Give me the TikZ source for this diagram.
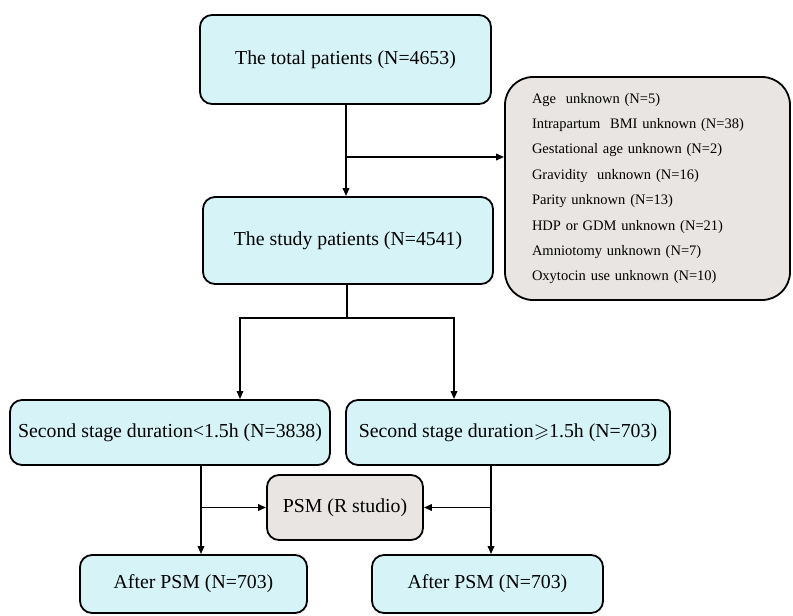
\documentclass[tikz,border=0pt]{standalone}
\usepackage{amssymb}
\usepackage{fontspec}
\setmainfont{Liberation Serif}
\usetikzlibrary{arrows.meta,positioning}

\definecolor{boxblue}{HTML}{D6F4F8}
\definecolor{boxgrey}{HTML}{E8E5E2}

\begin{document}
\begin{tikzpicture}[
        x=1pt, y=-1pt,
        box/.style={draw, line width=1.8pt, rounded corners=12pt, fill=boxblue, align=center,
            font=\fontsize{19.8}{24}\selectfont},
        greybox/.style={box, fill=boxgrey},
        line/.style={line width=1.8pt},
        arrow/.style={line, -{Triangle[length=8pt, width=6.5pt]}}
    ]
        \useasboundingbox (0,0) rectangle (793,616);

        % main column
        \node[box, minimum width=291pt, minimum height=89pt] (total) at (345.5,59.5) {The total patients (N=4653)};
        \node[box, minimum width=290pt, minimum height=87pt] (study) at (348,240.5) {The study patients (N=4541)};

        % exclusions
        \node[greybox, rounded corners=28pt, minimum width=285pt, minimum height=223pt,
            text width=231pt, inner xsep=27pt, align=left,
            font=\fontsize{14.5}{25.4}\selectfont] (excl) at (647.5,188.5) {%
            Age\ \ unknown (N=5)\\
            Intrapartum\ \ BMI unknown (N=38)\\
            Gestational age unknown (N=2)\\
            Gravidity\ \ unknown (N=16)\\
            Parity unknown (N=13)\\
            HDP or GDM unknown (N=21)\\
            Amniotomy unknown (N=7)\\
            Oxytocin use unknown (N=10)};

        % groups
        \node[box, minimum width=320pt, minimum height=65pt] (short) at (170,432.5) {Second stage duration<1.5h (N=3838)};
        \node[box, minimum width=324pt, minimum height=65pt] (long) at (508,432.5) {Second stage duration$\geqslant$1.5h (N=703)};
        \node[greybox, minimum width=156pt, minimum height=65pt] (psm) at (345,507.5) {PSM (R studio)};
        \node[box, minimum width=227pt, minimum height=58pt] (aftershort) at (193.5,584) {After PSM (N=703)};
        \node[box, minimum width=231pt, minimum height=58pt] (afterlong) at (487.5,584) {After PSM (N=703)};

        \coordinate (exclsplit) at (346,157);
        \coordinate (groupsplit) at (347,318);

        \draw[arrow] ([xshift=0.5pt]total.south) -- ([xshift=-2pt]study.north);
        \draw[arrow] (exclsplit) -- (exclsplit -| excl.west);
        \draw[line] ([xshift=-1pt]study.south) -- (groupsplit);
        \draw[arrow] (groupsplit) -| ([xshift=70pt]short.north);
        \draw[arrow] (groupsplit) -| ([xshift=-54pt]long.north);

        \draw[arrow] ([xshift=31pt]short.south) -- ([xshift=7.5pt]aftershort.north);
        \draw[arrow] ([xshift=31pt]short.south |- psm.west) -- (psm.west);
        \draw[arrow] ([xshift=-17pt]long.south) -- ([xshift=3.5pt]afterlong.north);
        \draw[arrow] ([xshift=-17pt]long.south |- psm.east) -- (psm.east);
    \end{tikzpicture}
\end{document}
